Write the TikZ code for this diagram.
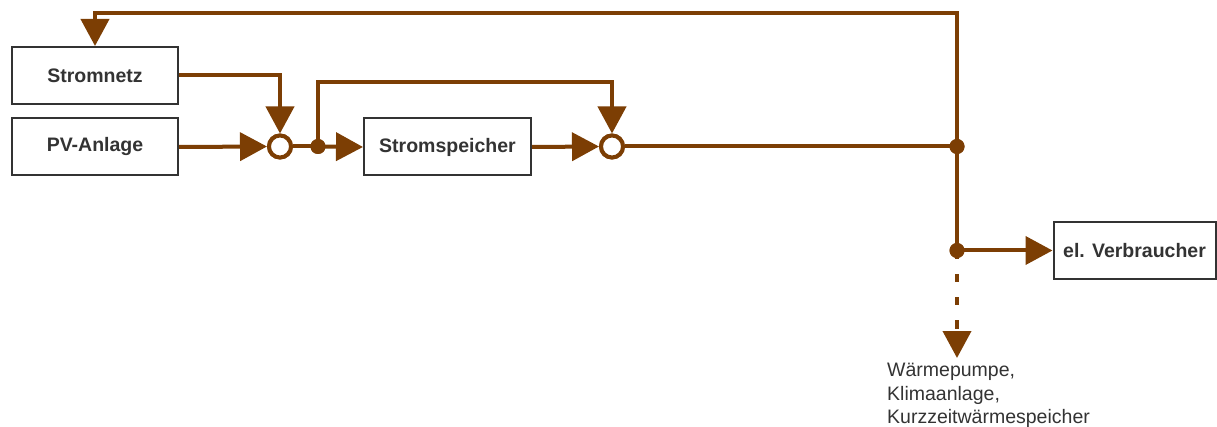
\documentclass[tikz,border=0pt]{standalone}
\usepackage{fontspec}
\setmainfont{Liberation Sans}
\usetikzlibrary{arrows.meta}
\definecolor{flow}{RGB}{124,62,4}
\definecolor{ink}{RGB}{51,51,51}
\begin{document}
\begin{tikzpicture}[x=1pt,y=-1pt,
  box/.style={draw=ink,line width=2pt,fill=white,text=ink,font=\fontsize{19.5}{23}\selectfont\bfseries,minimum height=57pt,inner sep=0pt},
  sumpt/.style={circle,draw=flow,line width=4pt,fill=white,minimum size=22pt,inner sep=0pt},
  dotpt/.style={circle,fill=flow,minimum size=15pt,inner sep=0pt},
  flowline/.style={draw=flow,line width=4pt},
  arr/.style={flowline,-{Triangle[length=27pt,width=28pt]}},
  lbl/.style={text=ink,font=\fontsize{19.5}{23.5}\selectfont,align=left,inner sep=0pt}]
\useasboundingbox (0,0) rectangle (1217,427);
% boxes
\node[box,minimum width=166pt] (snetz) at (95,75.5) {Stromnetz};
\node[box,minimum width=166pt] (pv) at (95,147) {PV-Anlage};
\node[box,minimum width=167pt] (sp) at (447.5,147) {Stromspeicher};
\node[box,minimum width=162pt] (verb) at (1134.5,250.5) {el. Verbraucher};
% junctions
\node[sumpt] (c1) at (280,146.5) {};
\node[sumpt] (c2) at (612,146.5) {};
\node[dotpt] (d1) at (318,146.5) {};
\node[dotpt] (jn1) at (957,146.5) {};
\node[dotpt] (jn2) at (957,250.5) {};
\coordinate (top) at (957,13.5);
\coordinate (wend) at (957,358);
\node[lbl,anchor=north west] (waerme) at (887,363) {Wärmepumpe,\\Klimaanlage,\\Kurzzeitwärmespeicher};
% connectors
\draw[arr] (jn2.center) -- (top) -| (snetz.north);
\draw[arr] (snetz.east) -| (c1.north);
\draw[arr] (pv.east) -- (c1.west);
\draw[flowline] (c1.east) -- (d1.center);
\draw[arr] (d1.center) -- (sp.west);
\draw[arr] (d1.center) -- ++(0,-64) -| (c2.north);
\draw[arr] (sp.east) -- (c2.west);
\draw[flowline] (c2.east) -- (jn1.center);
\draw[arr] (jn2.center) -- (verb.west);
\draw[arr,dash pattern=on 8pt off 15pt,dash phase=22pt] (jn2.center) -- (wend);
% redraw junction dots on top
\node[dotpt] at (d1) {};
\node[dotpt] at (jn1) {};
\node[dotpt] at (jn2) {};
\node[sumpt] at (c1) {};
\node[sumpt] at (c2) {};
\end{tikzpicture}
\end{document}
